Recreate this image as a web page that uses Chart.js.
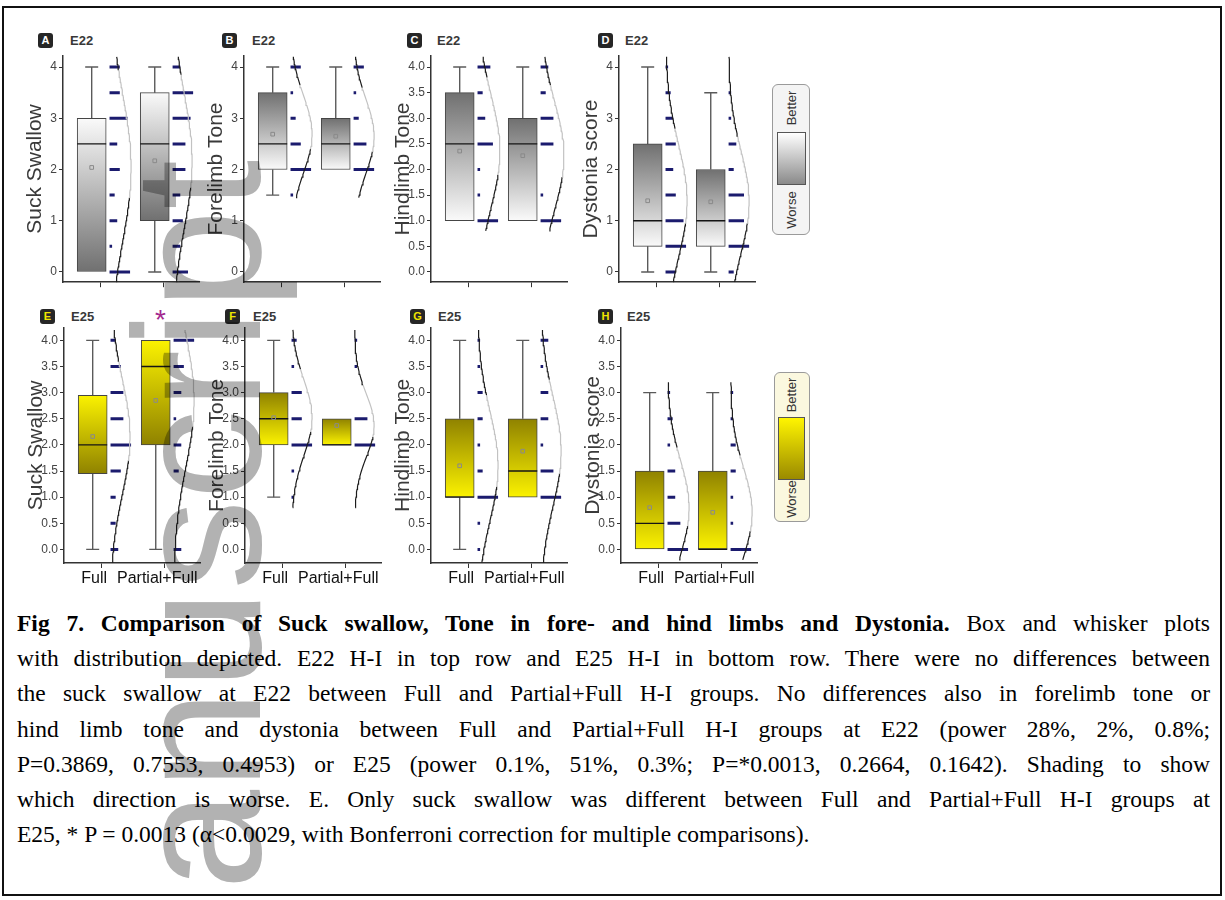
<!DOCTYPE html>
<html lang="en">
<head>
<meta charset="UTF-8" />
<title>Fig 7 - Suck swallow, tone and dystonia</title>
<script src="https://cdn.jsdelivr.net/npm/chart.js"></script>
<style>
  body { margin:0; width:1225px; height:900px; overflow:hidden; background:#fff; position:relative;
         font-family:'Liberation Sans', Arial, sans-serif; }
  canvas { position:absolute; }
  #frame { position:absolute; left:2px; top:6px; width:1216px; height:886px; border:2px solid #111; }
  .badge { position:absolute; width:15px; height:15px; border-radius:3px; background:#262626;
           font:bold 11px/15px 'Liberation Sans', Arial, sans-serif; text-align:center; }
  .stage { position:absolute; font:bold 13px/15px 'Liberation Sans', Arial, sans-serif; color:#383838; }
  .legend { position:absolute; border:1px solid #9a9a9a; border-radius:6px; box-sizing:border-box; }
  .lgbox { position:absolute; border:1px solid #555; box-sizing:border-box; }
  .lgtxt { position:absolute; font:13px 'Liberation Sans', Arial, sans-serif; color:#333;
           transform:translate(-50%,-50%) rotate(-90deg); white-space:nowrap; }
  #star { position:absolute; left:155px; top:304px; font:28px 'Liberation Sans', Arial, sans-serif; color:#a3288e; }
  #caption { position:absolute; left:17px; top:606px; width:1193px;
             font:23.5px/35.2px 'Liberation Serif', 'Times New Roman', serif; color:#000; }
  #caption div { text-align:justify; text-align-last:justify; white-space:nowrap; }
  #caption div.last { text-align-last:left; }
  #wm { position:absolute; left:108px; top:1040px; font:180px/1 'Liberation Sans', Arial, sans-serif;
        color:#b2b2b2; transform:rotate(-90deg); transform-origin:0 0; white-space:nowrap;
        mix-blend-mode:multiply; pointer-events:none; }
</style>
</head>
<body>

<div id="frame"></div>

<div class="badge" style="left:38px;top:33px;color:#fff">A</div><div class="stage" style="left:70px;top:33px">E22</div>
<div class="badge" style="left:222px;top:33px;color:#fff">B</div><div class="stage" style="left:252px;top:33px">E22</div>
<div class="badge" style="left:407px;top:33px;color:#fff">C</div><div class="stage" style="left:437px;top:33px">E22</div>
<div class="badge" style="left:598px;top:33px;color:#fff">D</div><div class="stage" style="left:625px;top:33px">E22</div>
<div class="badge" style="left:40px;top:309px;color:#f2e600">E</div><div class="stage" style="left:71px;top:309px">E25</div>
<div class="badge" style="left:225px;top:309px;color:#f2e600">F</div><div class="stage" style="left:253px;top:309px">E25</div>
<div class="badge" style="left:410px;top:309px;color:#f2e600">G</div><div class="stage" style="left:438px;top:309px">E25</div>
<div class="badge" style="left:598px;top:309px;color:#f2e600">H</div><div class="stage" style="left:627px;top:309px">E25</div>

<div id="star">*</div>

<div class="legend" style="left:772px;top:84px;width:38px;height:151px;background:#f4f4f4"></div>
<div class="lgbox" style="left:777px;top:132px;width:29px;height:53px;background:linear-gradient(#ffffff,#8a8a8a)"></div>
<div class="lgtxt" style="left:791px;top:108px">Better</div>
<div class="lgtxt" style="left:791px;top:210px">Worse</div>

<div class="legend" style="left:774px;top:372px;width:36px;height:150px;background:#fbf8df"></div>
<div class="lgbox" style="left:778px;top:417px;width:27px;height:63px;background:linear-gradient(#fff500,#9a8a00)"></div>
<div class="lgtxt" style="left:791px;top:395px">Better</div>
<div class="lgtxt" style="left:791px;top:499px">Worse</div>

<div id="caption">
  <div><b>Fig 7. Comparison of Suck swallow, Tone in fore- and hind limbs and Dystonia.</b> Box and whisker plots</div>
  <div>with distribution depicted. E22 H-I in top row and E25 H-I in bottom row. There were no differences between</div>
  <div>the suck swallow at E22 between Full and Partial+Full H-I groups. No differences also in forelimb tone or</div>
  <div>hind limb tone and dystonia between Full and Partial+Full H-I groups at E22 (power 28%, 2%, 0.8%;</div>
  <div>P=0.3869, 0.7553, 0.4953) or E25 (power 0.1%, 51%, 0.3%; P=*0.0013, 0.2664, 0.1642). Shading to show</div>
  <div>which direction is worse. E. Only suck swallow was different between Full and Partial+Full H-I groups at</div>
  <div class="last">E25, * P = 0.0013 (α&lt;0.0029, with Bonferroni correction for multiple comparisons).</div>
</div>

<div id="wm">Manuscript</div>

<script>
// ---- data ----
const groups = ['Full', 'Partial+Full'];
const levels = [0, 0.5, 1, 1.5, 2, 2.5, 3, 3.5, 4];   // score levels of the distribution dashes
const intTicks = [0, 1, 2, 3, 4];
const halfTicks = [0, 0.5, 1, 1.5, 2, 2.5, 3, 3.5, 4];

// box stats per group: [min, q1, median, q3, max]
const suckE22Box = [[0, 0, 2.5, 3, 4], [0, 1, 2.5, 3.5, 4]];
const foreE22Box = [[1.5, 2, 2.5, 3.5, 4], [2, 2, 2.5, 3, 4]];
const hindE22Box = [[1, 1, 2.5, 3.5, 4], [1, 1, 2.5, 3, 4]];
const dystE22Box = [[0, 0.5, 1, 2.5, 4], [0, 0.5, 1, 2, 3.5]];
const suckE25Box = [[0, 1.45, 2, 2.95, 4], [0, 2, 3.5, 4, 4]];
const foreE25Box = [[1, 2, 2.5, 3, 4], [2, 2, 2, 2.5, 2.5]];
const hindE25Box = [[0, 1, 1, 2.5, 4], [1, 1, 1.5, 2.5, 4]];
const dystE25Box = [[0, 0, 0.5, 1.5, 3], [0, 0, 0, 1.5, 3]];

// means per group
const suckE22Mean = [2.04, 2.17];
const foreE22Mean = [2.69, 2.65];
const hindE22Mean = [2.36, 2.27];
const dystE22Mean = [1.39, 1.37];
const suckE25Mean = [2.16, 2.85];
const foreE25Mean = [2.52, 2.37];
const hindE25Mean = [1.60, 1.88];
const dystE25Mean = [0.80, 0.71];

// counts at each level (Full, Partial+Full)
const suckE22Counts = [[8, 1, 3, 2, 4, 3, 7, 4, 4], [6, 3, 4, 3, 5, 5, 7, 8, 3]];
const foreE22Counts = [[0, 0, 0, 1, 8, 4, 2, 1, 4], [0, 0, 0, 0, 8, 5, 2, 1, 4]];
const hindE22Counts = [[0, 0, 8, 1, 1, 6, 3, 2, 5], [0, 0, 8, 1, 0, 5, 5, 2, 3]];
const dystE22Counts = [[4, 8, 7, 4, 3, 4, 3, 2, 1], [2, 8, 6, 6, 2, 3, 1, 1, 0]];
const suckE25Counts = [[3, 2, 2, 4, 8, 5, 5, 4, 2], [3, 0, 0, 2, 3, 1, 3, 4, 8]];
const foreE25Counts = [[0, 0, 1, 1, 8, 4, 4, 1, 2], [0, 0, 0, 0, 8, 5, 0, 1, 1]];
const hindE25Counts = [[1, 1, 8, 2, 1, 2, 2, 1, 1], [0, 0, 8, 5, 1, 3, 3, 1, 3]];
const dystE25Counts = [[8, 5, 3, 3, 1, 2, 1, 0, 0], [8, 1, 1, 2, 2, 1, 1, 0, 0]];

// fitted normal curve per group: [sd, peak in counts]; span = [low, high] of the drawn curve
const suckE22Fit = [[1.45, 8.4], [1.3, 7.6]];
const foreE22Fit = [[0.75, 8.4], [0.72, 8.0]];
const hindE22Fit = [[1.1, 8.7], [1.05, 9.1]];
const dystE22Fit = [[1.1, 8.4], [1.0, 8.0]];
const suckE25Fit = [[1.1, 7.6], [1.25, 8.0]];
const foreE25Fit = [[0.72, 8.0], [0.6, 7.6]];
const hindE25Fit = [[1.05, 8.0], [1.05, 8.0]];
const dystE25Fit = [[0.9, 8.4], [0.85, 8.4]];
const span22 = [-0.2, 4.2];
const foreE22Span = [1.45, 4.2];
const hindE22Span = [0.8, 4.2];
const span25 = [-0.25, 4.2];
const foreE25Span = [0.8, 4.2];
const dystE25Span = [-0.2, 3.2];

// ---- layout / style ----
const BOX_OFF = -0.135, DIST_OFF = 0.148, CW = 0.0407;
const GRAY = ['#fafafa', '#707070'], YELLOW = ['#fbf200', '#8f8200'];

Chart.defaults.font.family = "'Liberation Sans', Arial, sans-serif";

const panels = [
  { axisX: 63,  row: 0, title: 'Suck Swallow',   ticks: intTicks,  dec: false, box: suckE22Box, mean: suckE22Mean, counts: suckE22Counts, fit: suckE22Fit, span: span22,      lowWorse: true },
  { axisX: 244, row: 0, title: 'Forelimb Tone',  ticks: intTicks,  dec: false, box: foreE22Box, mean: foreE22Mean, counts: foreE22Counts, fit: foreE22Fit, span: foreE22Span, lowWorse: false },
  { axisX: 431, row: 0, title: 'Hindlimb Tone',  ticks: halfTicks, dec: true,  box: hindE22Box, mean: hindE22Mean, counts: hindE22Counts, fit: hindE22Fit, span: hindE22Span, lowWorse: false },
  { axisX: 619, row: 0, title: 'Dystonia score', ticks: intTicks,  dec: false, box: dystE22Box, mean: dystE22Mean, counts: dystE22Counts, fit: dystE22Fit, span: span22,      lowWorse: false },
  { axisX: 64,  row: 1, title: 'Suck Swallow',   ticks: halfTicks, dec: true,  box: suckE25Box, mean: suckE25Mean, counts: suckE25Counts, fit: suckE25Fit, span: span25,      lowWorse: true },
  { axisX: 245, row: 1, title: 'Forelimb Tone',  ticks: halfTicks, dec: true,  box: foreE25Box, mean: foreE25Mean, counts: foreE25Counts, fit: foreE25Fit, span: foreE25Span, lowWorse: false },
  { axisX: 431, row: 1, title: 'Hindlimb Tone',  ticks: halfTicks, dec: true,  box: hindE25Box, mean: hindE25Mean, counts: hindE25Counts, fit: hindE25Fit, span: span25,      lowWorse: false },
  { axisX: 621, row: 1, title: 'Dystonia score', ticks: halfTicks, dec: true,  box: dystE25Box, mean: dystE25Mean, counts: dystE25Counts, fit: dystE25Fit, span: dystE25Span, lowWorse: false }
];

function makePanel(p) {
  const top = p.row === 0 ? 40 : 312;
  const plotTop = p.row === 0 ? 49 : 322;
  const plotBottom = p.row === 0 ? 286 : 563;
  const axisH = p.row === 0 ? 12 : 36;
  const shade = p.row === 0 ? GRAY : YELLOW;

  const cv = document.createElement('canvas');
  cv.width = 192;
  cv.height = plotBottom - top + axisH;
  cv.style.left = (p.axisX - 40) + 'px';
  cv.style.top = top + 'px';
  document.body.insertBefore(cv, document.getElementById('wm'));

  const centers = groups.map((g, i) => i + 1 + BOX_OFF);
  const starts = groups.map((g, i) => i + 1 + DIST_OFF);

  const whiskers = [], caps = [];
  p.box.forEach((b, i) => {
    const c = centers[i];
    if (b[4] > b[3]) { whiskers.push({x: c, y: b[3]}, {x: c, y: b[4]}, {x: c, y: null}); caps.push({x: c, y: b[4]}); }
    if (b[0] < b[1]) { whiskers.push({x: c, y: b[0]}, {x: c, y: b[1]}, {x: c, y: null}); caps.push({x: c, y: b[0]}); }
  });

  const dashes = [];
  p.counts.forEach((cnt, i) => {
    cnt.forEach((n, k) => {
      if (n > 0) dashes.push({x: starts[i], y: levels[k]}, {x: starts[i] + n * CW, y: levels[k]}, {x: starts[i], y: null});
    });
  });

  const curves = p.fit.map((f, i) => {
    const m = p.mean[i], sd = f[0], pk = f[1];
    const pts = [];
    for (let y = p.span[0]; y <= p.span[1] + 1e-9; y += 0.05) {
      pts.push({x: starts[i] + CW * pk * Math.exp(-((y - m) ** 2) / (2 * sd * sd)), y: y});
    }
    return {
      type: 'line', data: pts, borderWidth: 1.2, pointRadius: 0, order: 1,
      segment: {
        borderColor: ctx => {
          const y = (ctx.p0.parsed.y + ctx.p1.parsed.y) / 2;
          return (y > m - 0.4 * sd && y < m + 1.3 * sd) ? '#c2c2c2' : '#1c1c1c';
        }
      }
    };
  });

  new Chart(cv.getContext('2d'), {
    type: 'bar',
    data: {
      datasets: [
        {
          type: 'line', data: whiskers, borderColor: '#5a5a5a', borderWidth: 1.4,
          pointRadius: 0, spanGaps: false, order: 8
        },
        {
          type: 'bar', grouped: false, barThickness: 29, order: 7,
          data: p.box.map((b, i) => ({x: centers[i], y: [b[1], b[3]]})),
          borderColor: '#454545', borderWidth: 1, borderSkipped: false,
          backgroundColor: ctx => {
            const chart = ctx.chart;
            if (!ctx.raw || !chart.chartArea) return shade[0];
            const ys = chart.scales.y;
            const y1 = ys.getPixelForValue(ctx.raw.y[1]), y0 = ys.getPixelForValue(ctx.raw.y[0]);
            const g = chart.ctx.createLinearGradient(0, y1, 0, y0);
            g.addColorStop(0, p.lowWorse ? shade[0] : shade[1]);
            g.addColorStop(1, p.lowWorse ? shade[1] : shade[0]);
            return g;
          }
        },
        {
          type: 'scatter', data: caps, pointStyle: 'line', pointRadius: 6.5,
          borderColor: '#5a5a5a', borderWidth: 1.4, order: 6
        },
        {
          type: 'scatter', data: p.box.map((b, i) => ({x: centers[i], y: b[2]})),
          pointStyle: 'line', pointRadius: 14.5, borderColor: '#151515', borderWidth: 1.3, order: 5
        },
        {
          type: 'scatter', data: p.mean.map((v, i) => ({x: centers[i], y: v})),
          pointStyle: 'rect', pointRadius: 2.6, borderColor: '#8a8a8a', backgroundColor: 'rgba(0,0,0,0)',
          borderWidth: 1, order: 4
        },
        {
          type: 'line', data: dashes, borderColor: '#1b1b6e', borderWidth: 3, borderCapStyle: 'butt',
          pointRadius: 0, spanGaps: false, order: 2
        },
        ...curves
      ]
    },
    options: {
      responsive: false,
      animation: false,
      events: [],
      layout: { padding: { top: plotTop - top, right: 6, left: 0, bottom: 0 } },
      plugins: { legend: { display: false }, tooltip: { enabled: false } },
      scales: {
        x: {
          type: 'linear', min: 0.41, max: 2.57, offset: false,
          afterBuildTicks: s => { s.ticks = groups.map((g, i) => ({value: i + 1})); },
          afterFit: s => { s.height = axisH; },
          ticks: {
            autoSkip: false, maxRotation: 0, padding: 1, labelOffset: -7,
            color: '#111', font: { size: 16 },
            callback: v => p.row === 1 ? groups[v - 1] : ''
          },
          grid: { offset: false, drawOnChartArea: false, drawTicks: true, tickLength: 5, color: '#333' },
          border: { display: true, color: '#333', width: 1.5 }
        },
        y: {
          type: 'linear', min: p.row === 0 ? -0.2 : -0.26, max: p.row === 0 ? 4.22 : 4.24,
          afterBuildTicks: s => { s.ticks = p.ticks.map(v => ({value: v})); },
          afterFit: s => { s.width = 40; },
          ticks: {
            color: '#444', font: { size: 12 }, padding: 2,
            callback: v => p.dec ? v.toFixed(1) : String(v)
          },
          grid: { drawOnChartArea: false, drawTicks: true, tickLength: 4, color: '#333' },
          border: { display: true, color: '#333', width: 1.5 },
          title: { display: true, text: p.title, color: '#3a3a3a', font: { size: 21 }, padding: 0 }
        }
      }
    }
  });
}

panels.forEach(makePanel);
</script>
</body>
</html>
